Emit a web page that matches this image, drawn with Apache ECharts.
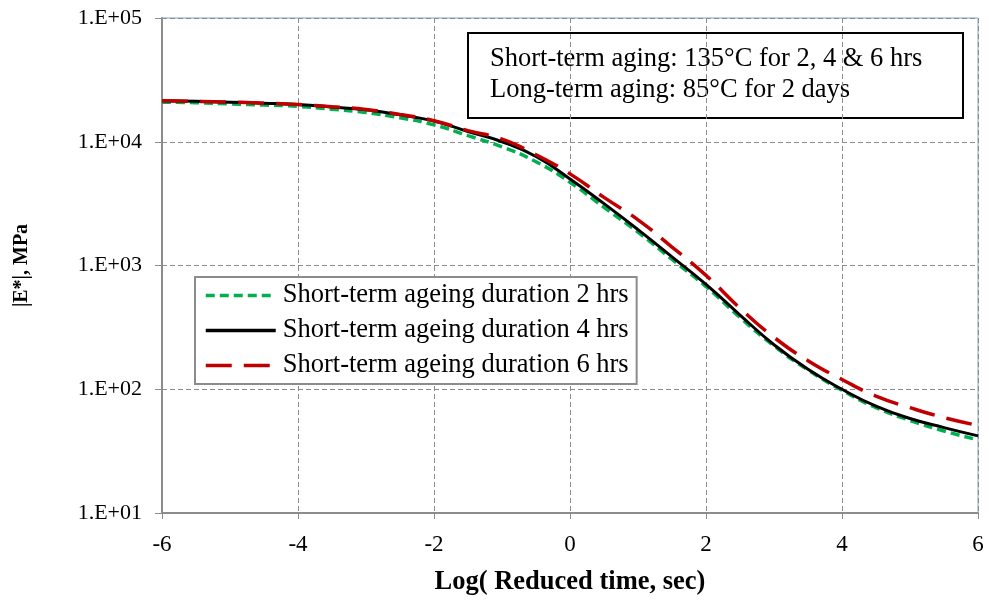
<!DOCTYPE html>
<html>
<head>
<meta charset="utf-8">
<script src="https://cdn.jsdelivr.net/npm/echarts@6/dist/echarts.min.js"></script>
<style>
  html, body { margin: 0; padding: 0; background: #fff; }
  #chart { width: 989px; height: 601px; }
</style>
</head>
<body>
<div id="chart"></div>
<script>
const FONT = '"Liberation Serif", "Times New Roman", serif';
const GRID_COLOR = '#8c8c8c';

// log reduced time, sec
const logTime = [-6, -5.5, -5, -4.5, -4, -3.5, -3, -2.5, -2, -1.5, -1, -0.5,
  0, 0.5, 1, 1.5, 2, 2.5, 3, 3.5, 4, 4.5, 5, 5.5, 6];

// |E*| in MPa
const ageing2h = [20900, 20650, 20200, 19800, 19300, 18300, 17200, 15600, 13700, 11200, 9100, 6900,
  4700, 2950, 1860, 1120, 676, 380, 224, 143, 98, 71, 56, 46, 39];
const ageing4h = [21400, 21200, 20900, 20500, 20000, 19100, 18100, 16500, 14700, 12100, 10000, 7600,
  5000, 3160, 1950, 1175, 703, 398, 229, 145, 100, 73, 58, 49, 42];
const ageing6h = [21400, 21200, 20900, 20500, 20000, 19200, 18200, 16600, 14800, 12300, 10500, 7850,
  5500, 3550, 2340, 1410, 832, 452, 263, 170, 120, 88, 71, 59, 51];

const seriesNames = [
  'Short-term ageing duration 2 hrs',
  'Short-term ageing duration 4 hrs',
  'Short-term ageing duration 6 hrs'
];
const noteLines = [
  'Short-term aging: 135°C for 2, 4 & 6 hrs',
  'Long-term aging: 85°C for 2 days'
];

const pair = arr => arr.map((v, i) => [logTime[i], v]);

const chart = echarts.init(document.getElementById('chart'));

chart.setOption({
  animation: false,
  textStyle: { fontFamily: FONT },
  grid: {
    left: 162, right: 11, top: 18, bottom: 87,
    show: true,
    borderColor: '#7fa1d0',
    borderWidth: 1
  },
  legend: {
    data: seriesNames,
    orient: 'vertical',
    left: 195,
    top: 277,
    padding: [5, 8, 5, 9],
    itemWidth: 70,
    itemHeight: 26,
    itemGap: 8,
    backgroundColor: '#fff',
    borderColor: '#8c8c8c',
    borderWidth: 2,
    borderRadius: 0,
    itemStyle: { opacity: 0 },
    lineStyle: { width: 3.5 },
    textStyle: { fontFamily: FONT, fontSize: 26.5, color: '#000', padding: [0, 0, 0, 2] }
  },
  xAxis: {
    type: 'value',
    min: -6,
    max: 6,
    interval: 2,
    name: 'Log( Reduced time, sec)',
    nameLocation: 'middle',
    nameGap: 56,
    nameTextStyle: { fontFamily: FONT, fontSize: 26.5, fontWeight: 'bold', color: '#000' },
    axisLine: { onZero: false, lineStyle: { color: GRID_COLOR, width: 2 } },
    axisTick: { show: true, length: 6, lineStyle: { color: GRID_COLOR } },
    axisLabel: { fontFamily: FONT, fontSize: 23, color: '#000', margin: 20 },
    splitLine: { lineStyle: { color: GRID_COLOR, type: [5, 3], width: 1 } }
  },
  yAxis: {
    type: 'log',
    logBase: 10,
    min: 10,
    max: 100000,
    name: '|E*|, MPa',
    nameLocation: 'middle',
    nameGap: 130,
    nameTextStyle: { fontFamily: FONT, fontSize: 20, fontWeight: 'bold', color: '#000' },
    axisLine: { show: true, onZero: false, lineStyle: { color: GRID_COLOR, width: 2 } },
    axisTick: { show: true, length: 7, lineStyle: { color: GRID_COLOR } },
    axisLabel: {
      fontFamily: FONT, fontSize: 22, color: '#000', margin: 20,
      formatter: v => '1.E+' + String(Math.round(Math.log10(v))).padStart(2, '0')
    },
    splitLine: { lineStyle: { color: GRID_COLOR, type: [5, 3], width: 1 } }
  },
  series: [
    {
      name: seriesNames[0],
      type: 'line',
      smooth: true,
      symbol: 'none',
      z: 2,
      itemStyle: { color: '#00b050' },
      lineStyle: { color: '#00b050', width: 3.5, type: [9, 5] },
      data: pair(ageing2h)
    },
    {
      name: seriesNames[1],
      type: 'line',
      smooth: true,
      symbol: 'none',
      z: 3,
      itemStyle: { color: '#000' },
      lineStyle: { color: '#000', width: 3 },
      data: pair(ageing4h)
    },
    {
      name: seriesNames[2],
      type: 'line',
      smooth: true,
      symbol: 'none',
      z: 4,
      itemStyle: { color: '#c00000' },
      lineStyle: { color: '#c00000', width: 3.5, type: [26, 12] },
      data: pair(ageing6h)
    }
  ],
  graphic: [
    {
      type: 'group',
      left: 467,
      top: 32,
      children: [
        {
          type: 'rect',
          shape: { x: 0, y: 0, width: 495, height: 85 },
          style: { fill: '#fff', stroke: '#000', lineWidth: 2 }
        },
        {
          type: 'text',
          left: 22,
          top: 11,
          style: {
            text: noteLines.join('\n'),
            font: '26.5px ' + FONT,
            fill: '#000',
            lineHeight: 31
          }
        }
      ]
    }
  ]
});
</script>
</body>
</html>
